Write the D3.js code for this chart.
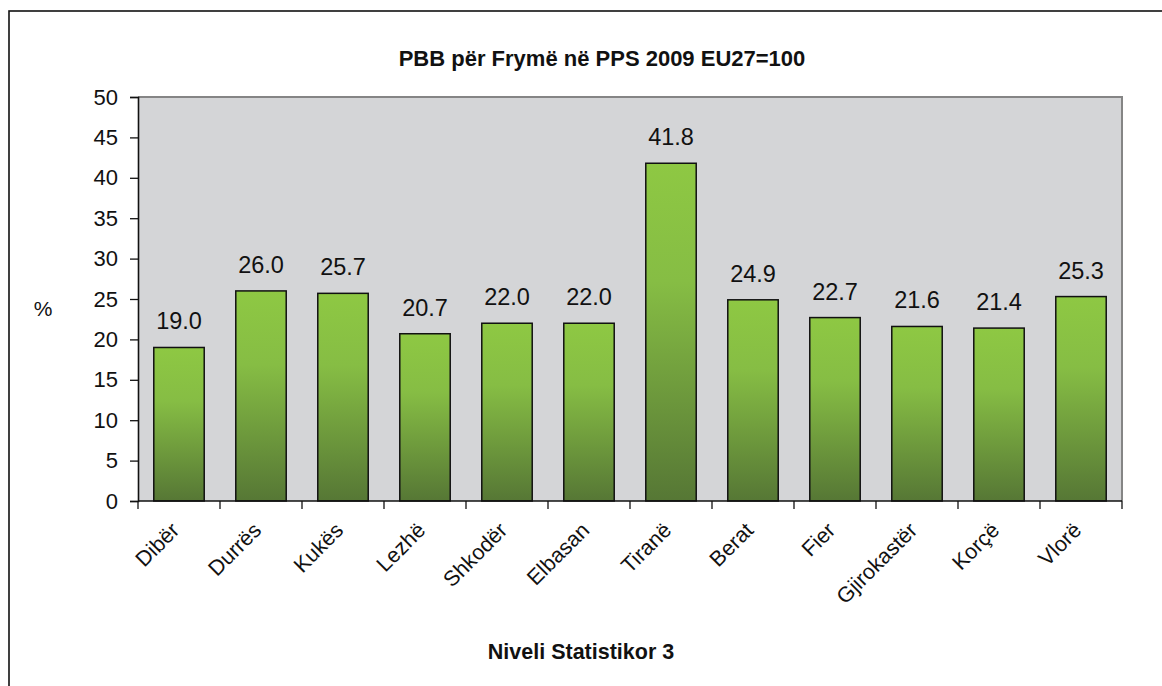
<!DOCTYPE html>
<html>
<head>
<meta charset="utf-8">
<script src="https://cdn.jsdelivr.net/npm/d3@7"></script>
<style>
  body { margin: 0; background: #fff; }
  svg { display: block; font-family: "Liberation Sans", Arial, sans-serif; }
</style>
</head>
<body>
<div id="graph"></div>
<script>
// Data ////////////////////////////////////////////////////////////////////
const regions = [
  "Dibër", "Durrës", "Kukës", "Lezhë", "Shkodër", "Elbasan",
  "Tiranë", "Berat", "Fier", "Gjirokastër", "Korçë", "Vlorë",
];
const gdpPerCapita = [19.0, 26.0, 25.7, 20.7, 22.0, 22.0, 41.8, 24.9, 22.7, 21.6, 21.4, 25.3];
const yTicks = [0, 5, 10, 15, 20, 25, 30, 35, 40, 45, 50];

const chartTitle = "PBB për Frymë në PPS 2009 EU27=100";
const xTitle = "Niveli Statistikor 3";
const yTitle = "%";

// Layout //////////////////////////////////////////////////////////////////
const width = 1162;
const height = 686;
const plot = { left: 138, right: 1122, top: 97, bottom: 501 };

const data = regions.map((r, i) => ({ region: r, value: gdpPerCapita[i] }));

const svg = d3.select("#graph")
  .append("svg")
  .attr("width", width)
  .attr("height", height);

// outer frame (only top and left edges fall inside the picture)
svg.append("rect")
  .attr("x", 9).attr("y", 11)
  .attr("width", width + 20).attr("height", height + 20)
  .attr("fill", "none")
  .attr("stroke", "#111")
  .attr("stroke-width", 1.6);

const defs = svg.append("defs");
const grad = defs.append("linearGradient")
  .attr("id", "barFill")
  .attr("x1", 0).attr("y1", 0).attr("x2", 0).attr("y2", 1);
grad.append("stop").attr("offset", "0%").attr("stop-color", "#8ec843");
grad.append("stop").attr("offset", "35%").attr("stop-color", "#86bd44");
grad.append("stop").attr("offset", "100%").attr("stop-color", "#567735");

const x = d3.scaleBand()
  .domain(regions)
  .range([plot.left, plot.right])
  .paddingInner(0.385)
  .paddingOuter(0.1925);

const y = d3.scaleLinear()
  .domain([0, 50])
  .range([plot.bottom, plot.top]);

// plot area
svg.append("rect")
  .attr("x", plot.left).attr("y", plot.top)
  .attr("width", plot.right - plot.left)
  .attr("height", plot.bottom - plot.top)
  .attr("fill", "#d4d5d7");

svg.append("path")
  .attr("d", `M${plot.left},${plot.top}H${plot.right}V${plot.bottom}`)
  .attr("fill", "none")
  .attr("stroke", "#858585")
  .attr("stroke-width", 2);

// bars
svg.append("g")
  .selectAll("rect")
  .data(data)
  .join("rect")
  .attr("x", d => x(d.region))
  .attr("y", d => y(d.value))
  .attr("width", x.bandwidth())
  .attr("height", d => y(0) - y(d.value))
  .attr("fill", "url(#barFill)")
  .attr("stroke", "#111")
  .attr("stroke-width", 1.5);

// value labels
svg.append("g")
  .selectAll("text")
  .data(data)
  .join("text")
  .attr("x", d => x(d.region) + x.bandwidth() / 2)
  .attr("y", d => y(d.value) - 18)
  .attr("text-anchor", "middle")
  .style("font-size", "23.5px")
  .attr("fill", "#111")
  .text(d => d3.format(".1f")(d.value));

// y axis
const yAxis = svg.append("g")
  .attr("transform", `translate(${plot.left},0)`)
  .call(d3.axisLeft(y).tickValues(yTicks).tickSize(8).tickPadding(12));
yAxis.select(".domain").attr("stroke", "#111").attr("stroke-width", 1.6);
yAxis.selectAll(".tick line").attr("stroke", "#111").attr("stroke-width", 1.3);
yAxis.selectAll(".tick text")
  .style("font-size", "22px")
  .style("font-family", "'Liberation Sans', Arial, sans-serif")
  .attr("fill", "#111");

// x axis: baseline, boundary ticks and rotated labels
const step = x.step();
const edge = d => x(d) - (step - x.bandwidth()) / 2;
const boundaries = regions.map(edge).concat([plot.right]);

svg.append("line")
  .attr("x1", plot.left).attr("x2", plot.right)
  .attr("y1", y(0)).attr("y2", y(0))
  .attr("stroke", "#111").attr("stroke-width", 1.6);

svg.append("g")
  .selectAll("line")
  .data(boundaries)
  .join("line")
  .attr("x1", d => d).attr("x2", d => d)
  .attr("y1", y(0)).attr("y2", y(0) + 8)
  .attr("stroke", "#111").attr("stroke-width", 1.3);

svg.append("g")
  .selectAll("text")
  .data(regions)
  .join("text")
  .attr("transform", d => `translate(${x(d) + x.bandwidth() / 2 - 9},${y(0) + 20}) rotate(-45)`)
  .attr("text-anchor", "end")
  .attr("dy", "0.7em")
  .style("font-size", "21.5px")
  .attr("fill", "#111")
  .text(d => d);

// titles
svg.append("text")
  .attr("x", 602).attr("y", 66)
  .attr("text-anchor", "middle")
  .style("font-size", "22px")
  .style("font-weight", "bold")
  .attr("fill", "#111")
  .text(chartTitle);

svg.append("text")
  .attr("x", 581).attr("y", 659)
  .attr("text-anchor", "middle")
  .style("font-size", "21.5px")
  .style("font-weight", "bold")
  .attr("fill", "#111")
  .text(xTitle);

svg.append("text")
  .attr("x", 43).attr("y", 316)
  .attr("text-anchor", "middle")
  .style("font-size", "21px")
  .attr("fill", "#111")
  .text(yTitle);
</script>
</body>
</html>
